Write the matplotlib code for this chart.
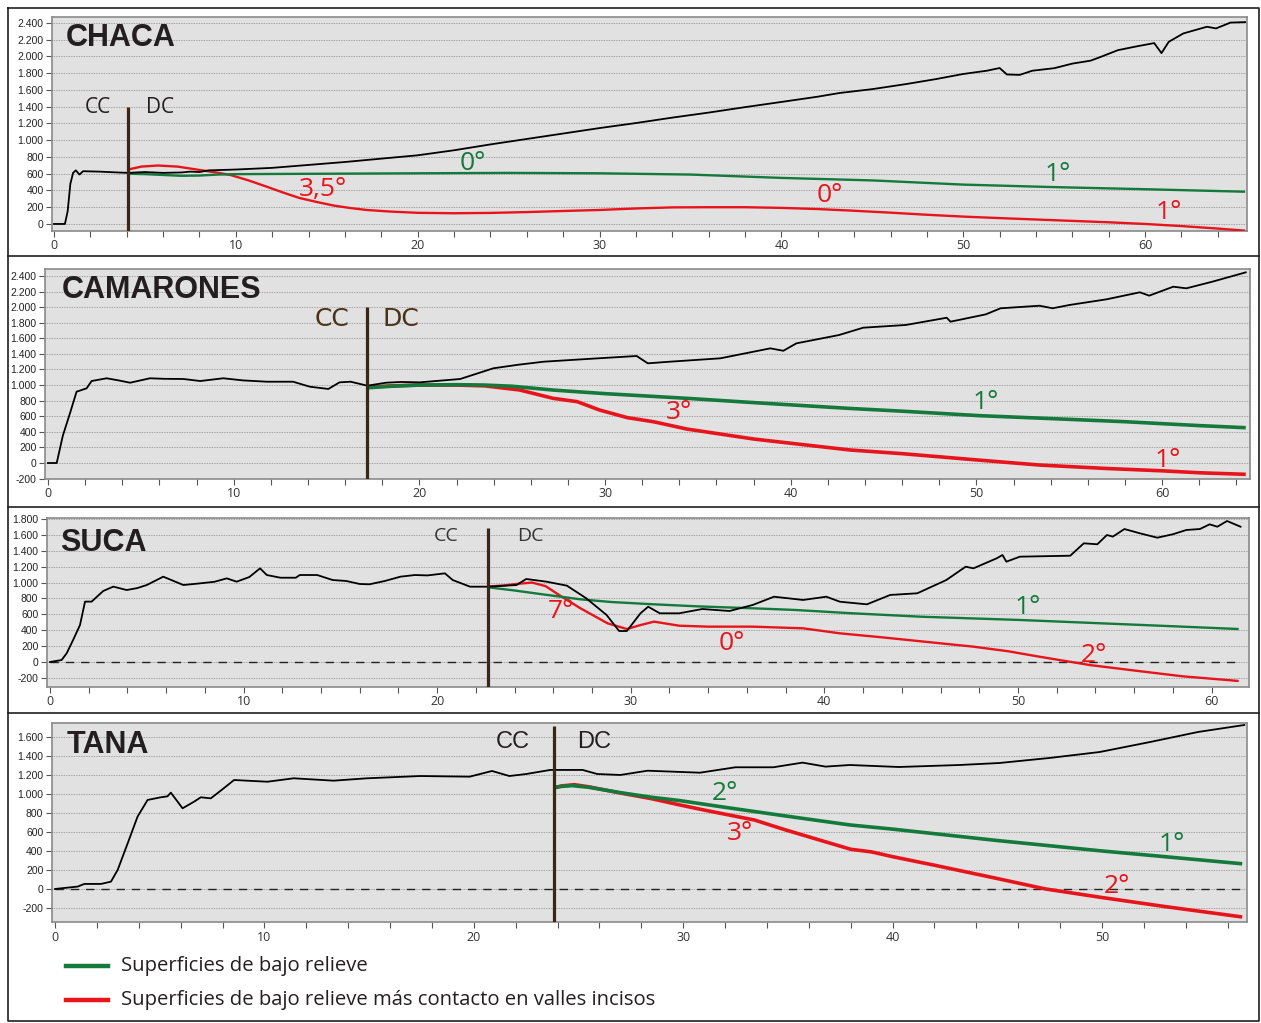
import matplotlib
matplotlib.use("Agg")
import matplotlib.pyplot as plt
from matplotlib.lines import Line2D
from matplotlib.ticker import MultipleLocator, FuncFormatter

# ---------------- CHACA ----------------
chaca_x = [0, 0.6, 0.75, 0.9, 1.05, 1.2, 1.4, 1.6, 2.5, 3.5, 4.07, 5, 6, 7, 7.5, 8, 8.5, 10,
           12, 14, 16, 18, 20, 22, 24, 26, 28, 30, 32, 34, 36, 38, 40, 42, 43.2, 45, 46.9,
           48.5, 50, 51.3, 52.0, 52.4, 53.1, 53.8, 55, 56, 57, 57.5, 58.5, 59.4, 60.5, 60.9,
           61.3, 62.1, 63.4, 63.9, 64.7, 65.5]
chaca_y = [0, 0, 150, 480, 610, 640, 590, 630, 625, 615, 610, 620, 610, 615, 625, 620, 640, 650,
           670, 705, 740, 780, 820, 880, 950, 1015, 1080, 1145, 1205, 1270, 1330, 1395, 1457,
           1520, 1564, 1610, 1672, 1730, 1791, 1830, 1862, 1785, 1780, 1830, 1860, 1915, 1950,
           1990, 2075, 2115, 2160, 2040, 2175, 2275, 2355, 2335, 2405, 2410]
chaca_green_x = [4.07, 5, 6, 7, 8, 9, 10, 15, 20, 25, 30, 35, 40, 45, 50, 55, 60, 65.5]
chaca_green_y = [600, 595, 585, 575, 578, 590, 595, 600, 605, 610, 605, 590, 550, 520, 470, 440, 415, 385]
chaca_red_x = [4.07, 4.8, 5.7, 6.8, 8.0, 9.0, 9.7, 10.7, 11.7, 12.6, 13.5, 14.5, 15.4, 16.3, 17.2,
               18.5, 20, 22, 24, 26, 28, 30, 32, 34, 36, 38, 40, 42, 43.8, 46, 48, 50, 52, 55,
               58, 60, 62, 64, 65.5]
chaca_red_y = [650, 685, 698, 685, 645, 612, 585, 520, 445, 375, 310, 260, 219, 190, 167,
               148, 133, 128, 132, 142, 155, 167, 185, 198, 200, 200, 192, 178, 160, 135, 110,
               88, 70, 45, 20, 0, -25, -55, -80]

# ---------------- CAMARONES ----------------
cama_x = [0, 0.47, 0.8, 1.2, 1.54, 2.08, 2.35, 3.16, 3.8, 4.42, 5.49, 6.3, 7.29, 8.2, 9.44,
          10.5, 11.8, 13.2, 14.1, 15.1, 15.7, 16.3, 17.2, 18.2, 19, 20.03, 22.2, 23.98, 25.3,
          26.7, 29.0, 31.7, 32.3, 33.5, 36.2, 38.9, 39.6, 40.3, 42.6, 43.9, 46.2, 48.4, 48.6,
          50.5, 51.3, 53.4, 54.1, 55.0, 57, 58.8, 59.3, 60.6, 61.3, 62.7, 64.5]
cama_y = [0, 0, 350, 650, 915, 958, 1052, 1087, 1060, 1030, 1087, 1080, 1078, 1052, 1087,
          1060, 1043, 1043, 979, 950, 1035, 1043, 992, 1030, 1040, 1035, 1078, 1215, 1260,
          1300, 1334, 1373, 1279, 1300, 1343, 1471, 1440, 1535, 1642, 1736, 1771, 1864, 1813,
          1907, 1985, 2018, 1985, 2027, 2100, 2190, 2147, 2262, 2241, 2326, 2446]
cama_green_x = [17.2, 18.5, 20, 22, 23.5, 25, 27.2, 30, 34.4, 38, 43.2, 46, 50.2, 54, 58, 62, 64.5]
cama_green_y = [965, 985, 1000, 1005, 1000, 985, 936, 890, 830, 775, 700, 665, 607, 570, 530, 480, 453]
cama_red_x = [17.2, 18.5, 20, 22, 23.5, 25.4, 27.2, 28.5, 29.7, 31.2, 32.6, 34.4, 38.0, 40.5,
              43.2, 46, 50, 53.4, 57, 60, 62, 64.5]
cama_red_y = [975, 990, 1000, 1000, 990, 937, 830, 787, 680, 582, 530, 436, 308, 240,
              167, 120, 40, -26, -70, -100, -125, -145]

# ---------------- SUCA ----------------
suca_x = [0, 0.6, 0.86, 1.2, 1.55, 1.81, 2.15, 2.75, 3.27, 3.96, 4.5, 5.0, 5.85, 6.89, 7.75,
          8.5, 9.13, 9.64, 10.3, 10.85, 11.2, 11.9, 12.7, 12.9, 13.8, 14.6, 15.3, 16.0, 16.5,
          17.3, 18.1, 18.85, 19.5, 20.4, 20.8, 21.7, 22.64, 24.1, 24.6, 25.65, 26.7, 27.7,
          28.75, 29.4, 29.8, 30.5, 30.9, 31.5, 32.5, 33.7, 35.1, 36.3, 37.4, 38.9, 40.1, 40.8,
          42.2, 43.4, 44.8, 46.3, 47.3, 47.7, 48.9, 49.2, 49.4, 50.1, 52.7, 53.4, 54.1, 54.6,
          54.9, 55.5, 56.3, 57.2, 58.0, 58.7, 59.4, 59.9, 60.3, 60.8, 61.5]
suca_y = [0, 25, 109, 280, 466, 760, 760, 894, 949, 906, 930, 969, 1074, 969, 990,
          1010, 1053, 1011, 1070, 1179, 1095, 1061, 1061, 1095, 1095, 1032, 1020, 982, 978,
          1020, 1074, 1095, 1090, 1116, 1032, 948, 948, 969, 1045, 1011, 961, 802,
          592, 390, 390, 613, 696, 613, 613, 667, 642, 718, 822, 781, 822, 759,
          726, 844, 865, 1032, 1200, 1179, 1305, 1347, 1263, 1326, 1338, 1494, 1482, 1599,
          1578, 1674, 1620, 1565, 1608, 1662, 1674, 1733, 1703, 1775, 1703]
suca_green_x = [22.64, 24, 25.5, 27.4, 29, 31.2, 33.5, 36.3, 38.5, 41.3, 45, 50.1, 55, 58, 61.4]
suca_green_y = [940, 900, 850, 789, 755, 726, 700, 676, 655, 615, 570, 529, 480, 450, 415]
suca_red_x = [22.64, 23.5, 24.2, 24.9, 25.6, 26.3, 27.4, 28.8, 29.8, 30.5, 31.2, 32.5, 34,
              36.3, 38.9, 40.8, 43, 45, 47.7, 49.5, 51.1, 53.7, 56, 58.5, 61.4]
suca_red_y = [950, 965, 985, 1000, 955, 843, 676, 487, 415, 465, 508, 457, 445,
              445, 424, 361, 310, 260, 193, 135, 67, -38, -107, -180, -239]

# ---------------- TANA ----------------
tana_x = [0, 1.08, 1.4, 2.2, 2.67, 2.99, 3.47, 3.94, 4.42, 5.05, 5.37, 5.53, 6.09, 6.64, 6.96,
          7.44, 8.0, 8.55, 10.14, 11.4, 13.3, 14.9, 17.45, 19.8, 20.87, 21.7, 22.5, 23.65, 25.2,
          25.9, 27.0, 28.3, 30.8, 32.5, 34.3, 35.7, 36.8, 37.96, 40.3, 43.2, 45.1, 47.5, 49.9,
          52.3, 54.6, 56.8]
tana_y = [0, 25, 53, 53, 77, 200, 481, 761, 937, 965, 975, 1014, 849, 919, 965,
          954, 1050, 1147, 1129, 1165, 1140, 1165, 1189, 1182, 1242, 1189, 1210, 1253, 1253,
          1210, 1200, 1245, 1224, 1281, 1281, 1330, 1288, 1305, 1284, 1305, 1326, 1379, 1442,
          1547, 1653, 1726]
tana_green_x = [23.81, 24.2, 24.7, 25.5, 27.0, 28.5, 29.85, 31.8, 34.9, 37.96, 40, 45, 50, 53, 56.7]
tana_green_y = [1065, 1080, 1088, 1070, 1014, 965, 930, 866, 768, 674, 630, 510, 400, 340, 265]
tana_red_x = [23.81, 24.2, 24.8, 25.5, 27.0, 28.5, 29.85, 30.97, 33.4, 34.9, 36.5, 38.0, 39.0,
              40.0, 42.0, 45.0, 47.3, 50.0, 53.0, 56.7]
tana_red_y = [1065, 1085, 1098, 1075, 1010, 950, 884, 832, 726, 621, 516, 418, 390,
              340, 250, 110, 0, -90, -185, -295]

# limite CC / DC (km) y altura superior de la linea
cc_x = [4.07, 17.2, 22.64, 23.81]
cc_top = [1400, 2000, 1690, 1720]

names = ["CHACA", "CAMARONES", "SUCA", "TANA"]
legend_labels = ["Superficies de bajo relieve",
                 "Superficies de bajo relieve más contacto en valles incisos"]

GREEN = "#137a3c"
RED = "#e8141b"
BROWN = "#3b2716"
INK = "#231f20"

W, H = 1261, 1023
fig = plt.figure(figsize=(W / 100, H / 100), dpi=100)


def rect(left, top, right, bottom):
    return [left / W, 1 - bottom / H, (right - left) / W, (bottom - top) / H]


panels = [
    dict(name=names[0], prof=(chaca_x, chaca_y), green=(chaca_green_x, chaca_green_y),
         red=(chaca_red_x, chaca_red_y), rect=rect(52, 16.7, 1247.3, 231),
         xlim=(-0.11, 65.62), ylim=(-84, 2475), yt=(0, 2400), lw=1.7, zero=False,
         cc=dict(pos=(2.42, 5.83, 1385), size=15, color=INK, family="Open Sans"),
         title=(0.66, 2221),
         angles=[("0°", 23.05, 728, GREEN), ("1°", 55.17, 585, GREEN),
                 ("3,5°", 14.8, 406, RED), ("0°", 42.68, 334, RED), ("1°", 61.28, 131, RED)]),
    dict(name=names[1], prof=(cama_x, cama_y), green=(cama_green_x, cama_green_y),
         red=(cama_red_x, cama_red_y), rect=rect(45, 269, 1250, 479),
         xlim=(-0.16, 64.73), ylim=(-205, 2489), yt=(-200, 2400), lw=2.6, zero=False,
         cc=dict(pos=(15.29, 19.01, 1848), size=18, color="#4b3319",
                 family="Liberation Sans Narrow"),
         title=(0.75, 2220),
         angles=[("1°", 50.51, 770, GREEN), ("3°", 33.98, 642, RED), ("1°", 60.31, 38, RED)]),
    dict(name=names[2], prof=(suca_x, suca_y), green=(suca_green_x, suca_green_y),
         red=(suca_red_x, suca_red_y), rect=rect(46.7, 518.3, 1249.3, 686.7),
         xlim=(-0.17, 61.95), ylim=(-311, 1809), yt=(-200, 1800), lw=1.7, zero=True,
         cc=dict(pos=(20.45, 24.79, 1586), size=14, color="#333333", family="Open Sans"),
         title=(0.52, 1498),
         angles=[("7°", 26.39, 630, RED), ("0°", 35.23, 239, RED),
                 ("1°", 50.52, 680, GREEN), ("2°", 53.93, 76, RED)]),
    dict(name=names[3], prof=(tana_x, tana_y), green=(tana_green_x, tana_green_y),
         red=(tana_red_x, tana_red_y), rect=rect(51.7, 723.3, 1247, 922.3),
         xlim=(-0.16, 56.93), ylim=(-351, 1744), yt=(-200, 1600), lw=2.6, zero=True,
         cc=dict(pos=(21.87, 25.74, 1547), size=17, color=INK, family="Liberation Sans"),
         title=(0.53, 1516),
         angles=[("2°", 32.0, 1010, GREEN), ("3°", 32.71, 589, RED),
                 ("1°", 53.34, 463, GREEN), ("2°", 50.72, 21, RED)]),
]

thousands = FuncFormatter(lambda v, p: f"{int(v):,}".replace(",", "."))

for i, p in enumerate(panels):
    ax = fig.add_axes(p["rect"])
    ax.set_facecolor("#e1e1e1")
    ax.set_xlim(*p["xlim"])
    ax.set_ylim(*p["ylim"])
    ax.set_yticks(range(p["yt"][0], p["yt"][1] + 1, 200))
    ax.xaxis.set_major_locator(MultipleLocator(10))
    ax.xaxis.set_minor_locator(MultipleLocator(2))
    ax.yaxis.set_major_formatter(thousands)
    ax.grid(axis="y", color="#8f8f8f", lw=0.6, ls=(0, (1, 1)))
    ax.set_axisbelow(True)
    for s in ax.spines.values():
        s.set_color("#8a8a8a")
        s.set_linewidth(1.2)
    ax.tick_params(axis="both", which="both", direction="out", length=4, color="#555555", width=0.8)
    ax.tick_params(axis="y", labelsize=7.5, pad=2, labelcolor="#222222")
    ax.tick_params(axis="x", labelsize=9, pad=2, labelcolor="#333333")
    for lab in ax.get_yticklabels():
        lab.set_family("Liberation Sans")
    for lab in ax.get_xticklabels():
        lab.set_family("Open Sans")

    px, py = p["prof"]
    if p["zero"]:
        ax.hlines(0, 0, px[-1], colors="#222222", lw=1.0, linestyles=(0, (6, 5)), zorder=2)
    ax.plot(*p["red"], color=RED, lw=p["lw"], zorder=3, solid_capstyle="butt")
    ax.plot(*p["green"], color=GREEN, lw=p["lw"], zorder=3, solid_capstyle="butt")
    ax.plot(px, py, color="black", lw=1.3, zorder=4)
    ax.plot([cc_x[i], cc_x[i]], [p["ylim"][0], cc_top[i]], color=BROWN, lw=2.3, zorder=5,
            solid_capstyle="butt")

    ax.text(p["title"][0], p["title"][1], p["name"], fontsize=22, fontweight="bold",
            family="Liberation Sans", color=INK, ha="left", va="center", zorder=6)
    c = p["cc"]
    for txt, xx in (("CC", c["pos"][0]), ("DC", c["pos"][1])):
        ax.text(xx, c["pos"][2], txt, fontsize=c["size"], color=c["color"],
                family=[c["family"], "DejaVu Sans"], ha="center", va="center", zorder=6)
    for txt, xx, yy, col in p["angles"]:
        ax.text(xx, yy, txt, fontsize=19, color=col, family="Open Sans",
                ha="center", va="center", zorder=6)

# marco general y separadores entre perfiles
fig.add_artist(Line2D([8 / W, 1259 / W, 1259 / W, 8 / W, 8 / W],
                      [1 - 7.5 / H, 1 - 7.5 / H, 1 - 1021 / H, 1 - 1021 / H, 1 - 7.5 / H],
                      color=INK, lw=1.2))
for ys in (256, 507, 713):
    fig.add_artist(Line2D([8 / W, 1259 / W], [1 - ys / H, 1 - ys / H], color=INK, lw=1.2))

# leyenda
for k, (col, yy) in enumerate(((GREEN, 966), (RED, 1000))):
    fig.add_artist(Line2D([66 / W, 108 / W], [1 - yy / H, 1 - yy / H], color=col, lw=3.2))
    fig.text(121 / W, 1 - yy / H, legend_labels[k], fontsize=14.6, family="Open Sans",
             color=INK, ha="left", va="center")

fig.savefig("out.png", dpi=100)
